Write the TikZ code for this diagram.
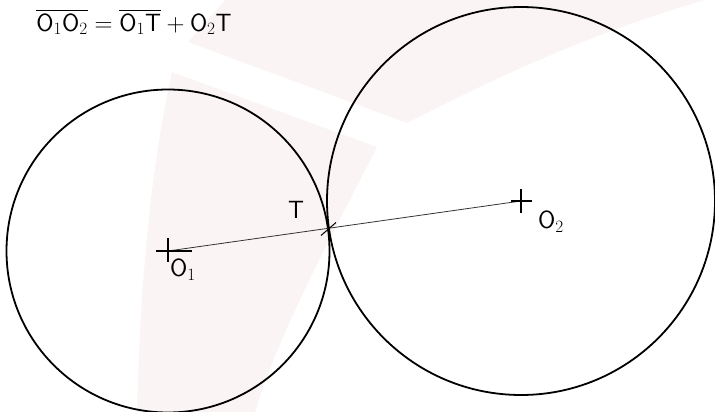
\documentclass[tikz,border=0pt]{standalone}
\usepackage{amsmath}
\usepackage{amssymb}
\usepackage{tikz}
\definecolor{marca}{RGB}{251,244,244}

\begin{document}
\begin{tikzpicture}[x=1pt, y=-1pt, font=\fontsize{23}{27}\selectfont]
					\useasboundingbox (0,0) rectangle (715,412);
					\fill[marca] (188,42) -- (407,123) .. controls (500,75) and (600,30) .. (705,0) -- (225,0) -- cycle;
					\fill[marca] (172,72) -- (377,147) .. controls (330,240) and (280,330) .. (255,412) -- (137,412) .. controls (140,290) and (150,170) .. (172,72);
					\coordinate (O1) at (168,251);
					\coordinate (O2) at (521,201);
					\coordinate (T) at (328,228.5);
					\draw[line width=1.8pt] (O1) circle[radius=161.5pt];
					\draw[line width=1.8pt] (O2) circle[radius=194pt];
					\draw[line width=0.8pt, black!80] (O1) -- (O2);
					\draw[line width=1.3pt] ([xshift=-12pt]O1) -- ([xshift=24pt]O1);
					\draw[line width=1.3pt] ([yshift=13pt]O1) -- ([yshift=-11pt]O1);
					\draw[line width=1.3pt] ([xshift=-10pt]O2) -- ([xshift=11pt]O2);
					\draw[line width=1.3pt] ([yshift=12pt]O2) -- ([yshift=-12pt]O2);
					\draw[line width=1pt] ([shift={(-7pt,-7pt)}]T) -- ([shift={(8pt,6pt)}]T);
					\node (lblT) at (296,210) {$\mathsf{T}$};
					\node (lblO1) at (183,270) {$\mathsf{O}_1$};
					\node (lblO2) at (551,222) {$\mathsf{O}_2$};
					\node (formula) at (134,22) {$\overline{\mathsf{O}_1\mathsf{O}_2} = \overline{\mathsf{O}_1\mathsf{T}} + \mathsf{O}_2\mathsf{T}$};
				\end{tikzpicture}
\end{document}
